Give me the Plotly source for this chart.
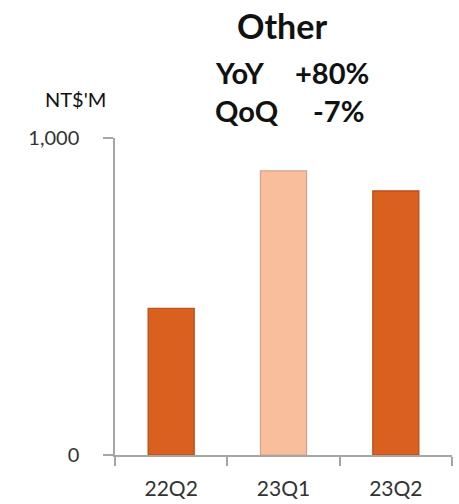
import plotly.graph_objects as go

# Quarterly revenue of the "Other" segment, NT$ millions
quarters = ["22Q2", "23Q1", "23Q2"]
revenue = [463, 896, 833]
bar_colors = ["#D9601F", "#F9BE9C", "#D9601F"]
edge_colors = ["#B44A14", "#D9A083", "#B44A14"]

title_text = "Other"
yoy_label, yoy_value = "YoY", "+80%"
qoq_label, qoq_value = "QoQ", "-7%"
unit_text = "NT$'M"
y_ticks = [0, 1000]
y_tick_labels = ["0", "1,000"]

W, H = 459, 504
L, R, T, B = 115, 7, 138, 49
FONT = "Lato, Calibri, Carlito, sans-serif"

fig = go.Figure()
fig.add_trace(go.Bar(
    x=quarters, y=revenue, width=0.41,
    marker=dict(color=bar_colors, line=dict(color=edge_colors, width=1.2)),
    hoverinfo="x+y",
))

def px_x(px):
    return (px - L) / (W - L - R)

def px_y(py):
    return (H - B - py) / (H - T - B)

# (text, x px, y px, anchor, size, bold)
labels = [
    (title_text, 282, 26, "center", 34, True),
    (yoy_label, 213, 73, "left", 29, True),
    (yoy_value, 371, 73, "right", 29, True),
    (qoq_label, 213, 110, "left", 29, True),
    (qoq_value, 366, 110, "right", 29, True),
    (unit_text, 75, 99, "center", 20, False),
]

fig.update_layout(
    width=W, height=H,
    margin=dict(l=L, r=R, t=T, b=B, pad=0),
    paper_bgcolor="white", plot_bgcolor="white",
    showlegend=False,
    bargap=0.59,
    font=dict(family=FONT, color="#222222"),
    annotations=[dict(text=("<b>%s</b>" % t) if bold else t,
                      x=px_x(x), y=px_y(y), xref="paper", yref="paper",
                      xanchor=anchor, yanchor="middle", showarrow=False,
                      font=dict(family=FONT, size=size, color="#111111"))
                 for t, x, y, anchor, size, bold in labels],
    xaxis=dict(
        type="category", range=[-0.5, 2.5], automargin=False,
        showline=True, linecolor="#A6A6A6", linewidth=1.5,
        ticks="outside", tickson="boundaries", ticklen=9, tickcolor="#A6A6A6", tickwidth=1.5,
        ticklabelstandoff=14,
        tickfont=dict(family=FONT, size=21, color="#333333"),
        showgrid=False, zeroline=False, fixedrange=True,
    ),
    yaxis=dict(
        range=[0, 1000], tickvals=y_ticks, ticktext=y_tick_labels, automargin=False,
        showline=True, linecolor="#A6A6A6", linewidth=1.5,
        ticks="outside", ticklen=10, tickcolor="#A6A6A6", tickwidth=1.5,
        ticklabelstandoff=20,
        showgrid=True, gridcolor="#A6A6A6", gridwidth=1.5,
        zeroline=False,
        tickfont=dict(family=FONT, size=20, color="#333333"),
        fixedrange=True,
    ),
)

fig.write_html("out.html")
